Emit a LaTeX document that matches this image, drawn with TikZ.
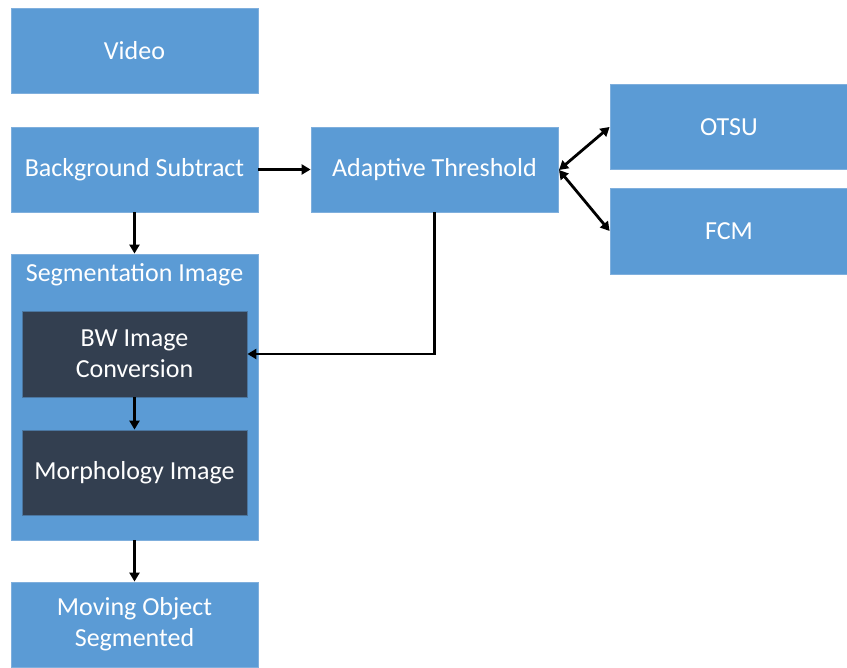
\documentclass[tikz,border=0pt]{standalone}
\usepackage{fontspec}
\setmainfont{Carlito}
\usetikzlibrary{arrows.meta}
\definecolor{boxblue}{HTML}{5B9BD5}
\definecolor{boxedge}{HTML}{7FAFDD}
\definecolor{darkbox}{HTML}{333F50}
\begin{document}
\begin{tikzpicture}[x=1pt,y=-1pt,
  bluebox/.style={fill=boxblue,draw=boxedge,line width=0.8pt,text=white,font=\fontsize{26}{31}\selectfont,align=center,inner sep=0pt},
  darkbox/.style={fill=darkbox,draw=boxblue!60!darkbox,line width=0.8pt,text=white,font=\fontsize{26}{31}\selectfont,align=center,inner sep=0pt},
  conn/.style={line width=2.8pt,-{Triangle[length=9pt,width=10pt]}},
  biconn/.style={line width=2.8pt,{Triangle[length=9pt,width=10pt]}-{Triangle[length=9pt,width=10pt]}}]
\useasboundingbox (0,0) rectangle (847,668);
\fill[white] (0,0) rectangle (847,668);
\node[bluebox,minimum width=247,minimum height=85] (video) at (134.5,50.5) {Video};
\node[bluebox,minimum width=247,minimum height=85] (bg) at (134.5,169.5) {Background Subtract};
\node[bluebox,minimum width=247,minimum height=85] (at) at (434.5,169.5) {Adaptive Threshold};
\node[bluebox,minimum width=238,minimum height=85] (otsu) at (729,127) {OTSU};
\node[bluebox,minimum width=238,minimum height=86] (fcm) at (729,231) {FCM};
\node[bluebox,minimum width=247,minimum height=286] (seg) at (134.5,397) {};
\node[text=white,font=\fontsize{26}{31}\selectfont,anchor=north,inner sep=0pt] (segl) at (134.5,263) {Segmentation Image};
\node[darkbox,minimum width=225,minimum height=86] (bw) at (134.5,354) {BW Image\\Conversion};
\node[darkbox,minimum width=225,minimum height=85] (morph) at (134.5,472.5) {Morphology Image};
\node[bluebox,minimum width=247,minimum height=85] (mo) at (134.5,624.5) {Moving Object\\Segmented};
\draw[conn] (bg.east) -- (at.west);
\draw[conn] (bg.south) -- (seg.north);
\draw[conn] (at.south) |- (bw.east);
\draw[conn] (bw.south) -- (morph.north);
\draw[conn] (seg.south) -- (mo.north);
\coordinate (atr) at (559,170);
\draw[biconn] (atr) -- (otsu.west);
\draw[biconn] (atr) -- (fcm.west);
\end{tikzpicture}
\end{document}
